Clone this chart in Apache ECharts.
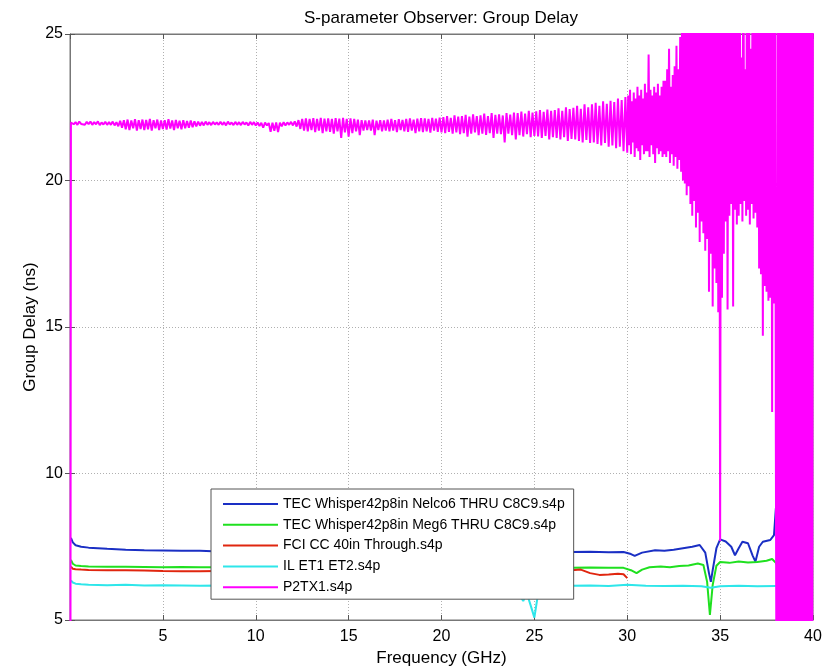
<!DOCTYPE html>
<html>
<head>
<meta charset="utf-8">
<script src="https://cdn.jsdelivr.net/npm/echarts@6/dist/echarts.min.js"></script>
<style>html,body{margin:0;padding:0;background:#fff}#c{width:835px;height:669px}</style>
</head>
<body>
<div id="c"></div>
<script>
const chartTitle = 'S-parameter Observer: Group Delay';
const xName = 'Frequency (GHz)';
const yName = 'Group Delay (ns)';
const seriesNames = [
  'TEC Whisper42p8in Nelco6 THRU C8C9.s4p',
  'TEC Whisper42p8in Meg6 THRU C8C9.s4p',
  'FCI CC 40in Through.s4p',
  'IL ET1 ET2.s4p',
  'P2TX1.s4p'
];
const seriesColors = ['#1a2fc4', '#1fe01f', '#e0260f', '#2ee6ea', '#ff00ff'];

// [frequency GHz, group delay ns]
const nelco6 = [[0.05,7.8],[0.15,7.65],[0.3,7.55],[0.6,7.5],[1,7.47],[1.5,7.45],[2,7.43],[3,7.4],[4,7.38],[5,7.37],[6,7.36],[7,7.36],[8,7.34],[9,7.33],[10,7.32],[11,7.33],[12,7.32],[13,7.31],[14,7.32],[15,7.31],[16,7.32],[17,7.31],[18,7.3],[19,7.31],[20,7.3],[21,7.31],[22,7.3],[23,7.31],[24,7.32],[25,7.31],[26,7.3],[27,7.32],[28,7.33],[29,7.31],[29.8,7.32],[30.2,7.25],[30.4,7.19],[30.8,7.3],[31.5,7.38],[32,7.36],[32.5,7.4],[33,7.45],[33.5,7.5],[33.9,7.56],[34.2,7.3],[34.4,6.6],[34.5,6.3],[34.6,6.7],[34.8,7.45],[35,7.75],[35.3,7.68],[35.6,7.5],[35.8,7.21],[36,7.45],[36.2,7.67],[36.5,7.62],[36.75,7.2],[36.9,6.99],[37.1,7.5],[37.3,7.67],[37.7,7.73],[37.9,7.9],[38.0,8.8],[38.05,8.9]];
const meg6 = [[0.05,7.05],[0.15,6.92],[0.3,6.86],[0.6,6.84],[1,6.83],[2,6.82],[3,6.82],[4,6.81],[5,6.8],[6,6.81],[7,6.8],[8,6.8],[9,6.79],[10,6.8],[11,6.79],[12,6.8],[13,6.79],[14,6.8],[15,6.79],[16,6.8],[17,6.79],[18,6.8],[19,6.79],[20,6.8],[21,6.79],[22,6.78],[23,6.79],[24,6.78],[25,6.79],[26,6.8],[27,6.78],[28,6.79],[29,6.78],[29.8,6.78],[30.2,6.7],[30.5,6.6],[30.8,6.72],[31.2,6.8],[31.8,6.83],[32.3,6.8],[32.8,6.84],[33.3,6.86],[33.8,6.93],[34.1,6.88],[34.3,6.3],[34.45,5.17],[34.6,6.2],[34.8,6.85],[35,6.98],[35.5,6.95],[36,7.0],[36.5,6.96],[37,6.98],[37.5,7.02],[37.8,7.08],[38,6.95],[38.1,6.82]];
const fci40 = [[0.05,6.82],[0.15,6.75],[0.3,6.73],[0.6,6.72],[1,6.71],[2,6.7],[3,6.7],[4,6.69],[5,6.67],[6,6.66],[7,6.66],[8,6.67],[10,6.67],[12,6.66],[14,6.66],[16,6.66],[18,6.65],[20,6.66],[22,6.65],[24,6.66],[26,6.68],[27,6.7],[27.5,6.72],[28,6.6],[28.5,6.54],[29,6.55],[29.5,6.58],[29.8,6.56],[30,6.43]];
const ilEt = [[0.05,6.35],[0.15,6.28],[0.3,6.24],[0.6,6.22],[1,6.2],[2,6.19],[3,6.2],[4,6.18],[5,6.19],[6,6.18],[7,6.17],[8,6.18],[10,6.17],[12,6.18],[14,6.17],[16,6.18],[18,6.17],[20,6.18],[22,6.17],[23.5,6.16],[24,6.1],[24.2,5.85],[24.4,5.65],[24.6,5.9],[24.8,5.5],[25,5.08],[25.15,5.7],[25.4,6.15],[26,6.18],[27,6.17],[28,6.18],[29,6.16],[30,6.2],[31,6.17],[32,6.16],[33,6.17],[34,6.15],[34.5,6.1],[35,6.15],[36,6.17],[37,6.15],[38,6.16],[38.1,6.16]];

// P2TX1: leading edge, then sweep samples (0.1 GHz steps to 30 GHz, 0.05 GHz steps after)
const p2txLead = [[0.02,0],[0.05,21.98]];
const p2txA = [
22.02,21.92,21.99,21.9,22.01,21.93,21.98,21.9,22.0,21.92,
22.01,21.9,21.99,21.92,22.02,21.89,21.98,21.91,22.0,21.9,
21.99,21.9,22.01,21.88,21.99,21.85,22.04,21.8,22.06,21.75,
22.08,21.72,22.05,21.78,22.09,21.7,22.06,21.76,22.08,21.72,
22.07,21.75,22.1,21.7,22.06,21.78,22.08,21.72,22.05,21.76,
22.06,21.74,22.09,21.77,22.05,21.72,22.07,21.78,22.04,21.75,
22.06,21.78,22.03,21.8,22.05,21.82,22.02,21.85,22.01,21.87,
22.0,21.88,22.01,21.9,21.99,21.89,22.0,21.91,21.98,21.9,
22.0,21.9,21.99,21.88,22.01,21.91,21.98,21.89,22.0,21.9,
21.99,21.89,22.0,21.91,21.98,21.88,22.0,21.9,21.99,21.88,
21.98,21.86,21.97,21.8,21.98,21.88,21.96,21.66,21.97,21.7,
21.98,21.65,21.97,21.85,21.99,21.88,21.98,21.9,22.0,21.88,
22.02,21.84,22.06,21.76,22.1,21.7,22.12,21.68,22.1,21.72,
22.13,21.65,22.1,21.7,22.14,21.62,22.11,21.68,22.12,21.66,
22.1,21.6,22.13,21.68,22.11,21.45,22.14,21.64,22.1,21.5,
22.12,21.62,22.1,21.68,22.08,21.55,22.06,21.7,22.05,21.72,
22.05,21.7,22.08,21.55,22.04,21.72,22.06,21.68,22.05,21.7,
22.08,21.68,22.1,21.7,22.06,21.65,22.09,21.72,22.07,21.68,
22.1,21.66,22.12,21.7,22.08,21.62,22.11,21.68,22.13,21.65,
22.12,21.68,22.1,21.63,22.14,21.7,22.11,21.66,22.15,21.64,
22.16,21.62,22.2,21.66,22.14,21.6,22.22,21.64,22.18,21.58,
22.2,21.62,22.24,21.5,22.18,21.6,22.26,21.64,22.2,21.55,
22.22,21.6,22.28,21.56,22.2,21.62,22.3,21.45,22.24,21.6,
22.26,21.58,22.22,21.3,22.3,21.6,22.25,21.55,22.32,21.4,
22.3,21.55,22.35,21.5,22.28,21.58,22.38,21.48,22.32,21.52,
22.36,21.5,22.4,21.45,22.34,21.52,22.42,21.4,22.38,21.48,
22.4,21.45,22.46,21.4,22.38,21.48,22.5,21.35,22.44,21.42,
22.48,21.4,22.55,21.35,22.45,21.3,22.6,21.38,22.5,21.28,
22.6,21.3,22.65,21.25,22.55,21.2,22.7,21.28,22.62,21.15,
22.72,21.2,22.68,21.1,22.8,21.15,22.75,21.0,22.85,20.95
];
const p2txB = [
22.9,21.2,23.1,20.9,22.7,21.3,23.0,20.8,22.8,21.1,23.2,21.0,22.9,20.7,23.1,21.2,22.8,20.9,23.3,21.0,
23.0,21.0,24.3,20.8,23.1,21.2,22.9,20.9,23.2,20.6,23.0,21.1,23.3,20.9,22.9,21.0,23.2,20.8,23.4,20.9,
23.4,20.8,23.8,21.0,24.5,20.6,23.2,20.9,23.6,20.5,23.9,20.8,24.6,20.4,23.8,20.7,24.9,20.3,25.5,20.0,
26,19.9,25.5,19.5,27,19.8,28,19.2,27,18.8,29,19.3,28,18.4,29,18.9,28,17.9,29,18.6,
28,18.2,29,17.6,28,18.0,29,16.2,28,17.5,29,15.7,28,17.0,29,16.5,28,15.5,29,7.7,
28,16.0,29,17.5,28,18.6,29,15.6,28,18.8,29,19.2,28,15.7,29,19.0,28,18.5,29,18.8,
29,19.2,24.2,18.6,29,19.3,23.8,18.8,29,19.0,28,18.5,24.5,19.2,28,18.7,29,18.9,28,18.4,
28,17.0,29,16.8,28,14.7,29,16.4,28,16.2,29,15.9,28,16.0,29,12.1,28,15.8,29,11.0
];
const p2txC = [
-2,30,-2,30,-2,30,-2,30,-2,30,-2,30,-2,30,-2,30,-2,30,-2,30,
-2,30,-2,30,-2,30,-2,30,-2,30,-2,30,-2,30,-2,30,-2,30,-2,30
];

const p2tx = p2txLead
  .concat(p2txA.map((v, i) => [(i + 1) / 10, v]))
  .concat(p2txB.map((v, i) => [30 + (i + 1) / 20, v]))
  .concat(p2txC.map((v, i) => [38 + (i + 1) / 20, v]));

const font = 'Liberation Sans, Arial, sans-serif';
const chart = echarts.init(document.getElementById('c'), null, {renderer: 'canvas'});
const dataSets = [nelco6, meg6, fci40, ilEt, p2tx];

chart.setOption({
  animation: false,
  backgroundColor: '#fff',
  title: {
    text: chartTitle, left: 436, top: 5, textAlign: 'center',
    textStyle: {fontFamily: font, fontSize: 17, fontWeight: 'normal', color: '#000'}
  },
  grid: {left: 70, right: 22, top: 34, bottom: 49, outerBoundsMode: 'none', containLabel: false,
         show: true, borderColor: '#777', borderWidth: 1, backgroundColor: '#fff'},
  legend: {
    orient: 'vertical', left: 211, top: 489, z: 20,
    data: seriesNames,
    itemWidth: 55, itemHeight: 14, itemGap: 4.8,
    padding: [7, 9, 4, 11],
    backgroundColor: '#fff', borderColor: '#555', borderWidth: 1,
    itemStyle: {opacity: 0, borderWidth: 0},
    lineStyle: {width: 2},
    textStyle: {fontFamily: font, fontSize: 14, color: '#000', lineHeight: 16}
  },
  xAxis: [{
    type: 'value', min: 0, max: 40, interval: 5,
    name: xName, nameLocation: 'middle', nameGap: 29,
    nameTextStyle: {fontFamily: font, fontSize: 17, color: '#000'},
    axisLine: {show: true, onZero: false, lineStyle: {color: '#777'}},
    axisTick: {show: true, inside: true, length: 5, lineStyle: {color: '#555'}},
    axisLabel: {fontFamily: font, fontSize: 16, color: '#000', margin: 9, formatter: v => v === 0 ? '' : String(v)},
    splitLine: {show: true, lineStyle: {color: '#b0b0b0', type: [1, 2], width: 1}}
  }, {
    type: 'value', min: 0, max: 40, interval: 5, position: 'top',
    axisLine: {show: true, lineStyle: {color: '#777'}},
    axisTick: {show: true, inside: true, length: 5, lineStyle: {color: '#555'}},
    axisLabel: {show: false}, splitLine: {show: false}
  }],
  yAxis: [{
    type: 'value', min: 5, max: 25, interval: 5,
    name: yName, nameLocation: 'middle', nameGap: 31, nameRotate: 90, nameMoveOverlap: false,
    nameTextStyle: {fontFamily: font, fontSize: 17, color: '#000'},
    axisLine: {show: true, onZero: false, lineStyle: {color: '#777'}},
    axisTick: {show: true, inside: true, length: 5, lineStyle: {color: '#555'}},
    axisLabel: {fontFamily: font, fontSize: 16, color: '#000', margin: 7},
    splitLine: {show: true, lineStyle: {color: '#b0b0b0', type: [1, 2], width: 1}}
  }, {
    type: 'value', min: 5, max: 25, interval: 5, position: 'right',
    axisLine: {show: true, lineStyle: {color: '#777'}},
    axisTick: {show: true, inside: true, length: 5, lineStyle: {color: '#555'}},
    axisLabel: {show: false}, splitLine: {show: false}
  }],
  series: seriesNames.map((name, k) => ({
    name: name,
    type: 'line',
    xAxisIndex: 0, yAxisIndex: 0,
    data: dataSets[k],
    symbol: 'none',
    showSymbol: false,
    clip: true,
    color: seriesColors[k],
    lineStyle: {color: seriesColors[k], width: 2},
    z: 2 + k
  }))
});
</script>
</body>
</html>
